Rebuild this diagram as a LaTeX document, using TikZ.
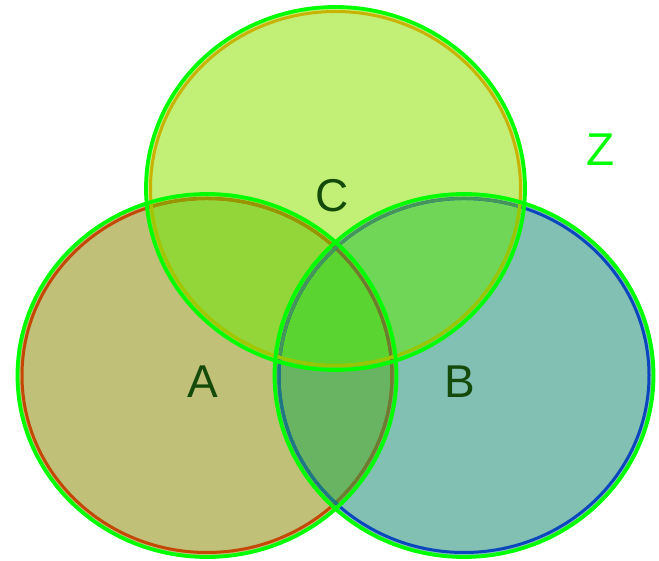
\documentclass[tikz,border=0pt]{standalone}
\usepackage{fontspec}
\setmainfont{Liberation Sans}
\definecolor{fA}{RGB}{192,192,120}
\definecolor{fB}{RGB}{130,192,180}
\definecolor{fC}{RGB}{194,240,118}
\definecolor{fAB}{RGB}{104,180,98}
\definecolor{fAC}{RGB}{146,214,58}
\definecolor{fBC}{RGB}{112,214,88}
\definecolor{fABC}{RGB}{90,212,48}
\definecolor{sA}{RGB}{196,72,4}
\definecolor{sAinC}{RGB}{150,150,0}
\definecolor{sAinB}{RGB}{107,125,50}
\definecolor{sB}{RGB}{10,70,190}
\definecolor{sBinA}{RGB}{30,120,130}
\definecolor{sBinC}{RGB}{70,150,90}
\definecolor{sC}{RGB}{200,180,0}
\definecolor{sCinA}{RGB}{160,200,0}
\definecolor{sCinB}{RGB}{150,200,0}
\definecolor{ring}{RGB}{0,255,0}
\definecolor{lab}{RGB}{20,75,10}
\begin{document}
\begin{tikzpicture}[x=1pt,y=1pt,
  innerline/.style={line width=3pt},
  outerline/.style={draw=ring,line width=3.8pt},
  lbl/.style={text=lab,font=\fontsize{46}{46}\selectfont,inner sep=0pt}]
\useasboundingbox (0,0) rectangle (659,561);
\coordinate (cA) at (207,185.5);
\coordinate (cB) at (464,185.5);
\coordinate (cC) at (335.5,372.5);
\def\oA{(cA) ellipse [x radius=189.5pt, y radius=181.5pt]}
\def\oB{(cB) ellipse [x radius=189.5pt, y radius=181.5pt]}
\def\oC{(cC) ellipse [x radius=189.5pt, y radius=181.5pt]}
\def\iA{(cA) ellipse [x radius=185pt, y radius=177pt]}
\def\iB{(cB) ellipse [x radius=185pt, y radius=177pt]}
\def\iC{(cC) ellipse [x radius=185pt, y radius=177pt]}
% region fills
\fill[fA] \oA;
\fill[fB] \oB;
\fill[fC] \oC;
\begin{scope}
  \clip \oB;
  \fill[fBC] \oC;
\end{scope}
\begin{scope}
  \clip \oA;
  \fill[fAB] \oB;
  \fill[fAC] \oC;
  \clip \oB;
  \fill[fABC] \oC;
\end{scope}
% inner coloured strokes
\draw[innerline,sA] \iA;
\begin{scope}\clip \oC; \draw[innerline,sAinC] \iA;\end{scope}
\begin{scope}\clip \oB; \draw[innerline,sAinB] \iA;\end{scope}
\draw[innerline,sB] \iB;
\begin{scope}\clip \oA; \draw[innerline,sBinA] \iB;\end{scope}
\begin{scope}\clip \oC; \draw[innerline,sBinC] \iB;\end{scope}
\draw[innerline,sC] \iC;
\begin{scope}\clip \oA; \draw[innerline,sCinA] \iC;\end{scope}
\begin{scope}\clip \oB; \draw[innerline,sCinB] \iC;\end{scope}
% outer green rings
\draw[outerline] \oA;
\draw[outerline] \oB;
\draw[outerline] \oC;
% labels
\node[lbl] (la) at (203,179) {A};
\node[lbl] (lb) at (460,179) {B};
\node[lbl] (lc) at (332,365) {C};
\node[lbl,text=ring] (lz) at (601,411) {Z};
\end{tikzpicture}
\end{document}
